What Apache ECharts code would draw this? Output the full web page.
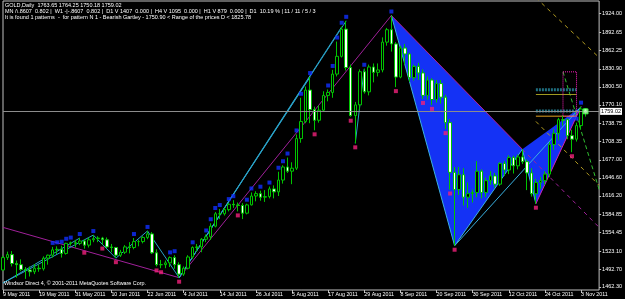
<!DOCTYPE html>
<html>
<head>
<meta charset="utf-8">
<script src="https://cdn.jsdelivr.net/npm/echarts@6/dist/echarts.min.js"></script>
<style>
  html, body { margin: 0; padding: 0; background: #000; }
  #chart { width: 625px; height: 299px; }
</style>
</head>
<body>
<div id="chart"></div>
<script>
// daily bars, GOLD 9 May 2011 .. 4 Nov 2011
const dates = [
  '9 May 2011','10 May 2011','11 May 2011','12 May 2011','13 May 2011','16 May 2011','17 May 2011','18 May 2011','19 May 2011','20 May 2011',
  '23 May 2011','24 May 2011','25 May 2011','26 May 2011','27 May 2011','30 May 2011','31 May 2011',
  '1 Jun 2011','2 Jun 2011','3 Jun 2011','6 Jun 2011','7 Jun 2011','8 Jun 2011','9 Jun 2011','10 Jun 2011','13 Jun 2011','14 Jun 2011',
  '15 Jun 2011','16 Jun 2011','17 Jun 2011','20 Jun 2011','21 Jun 2011','22 Jun 2011','23 Jun 2011','24 Jun 2011','27 Jun 2011','28 Jun 2011',
  '29 Jun 2011','30 Jun 2011',
  '1 Jul 2011','4 Jul 2011','5 Jul 2011','6 Jul 2011','7 Jul 2011','8 Jul 2011','11 Jul 2011','12 Jul 2011','13 Jul 2011','14 Jul 2011',
  '15 Jul 2011','18 Jul 2011','19 Jul 2011','20 Jul 2011','21 Jul 2011','22 Jul 2011','25 Jul 2011','26 Jul 2011','27 Jul 2011','28 Jul 2011',
  '29 Jul 2011',
  '1 Aug 2011','2 Aug 2011','3 Aug 2011','4 Aug 2011','5 Aug 2011','8 Aug 2011','9 Aug 2011','10 Aug 2011','11 Aug 2011','12 Aug 2011',
  '15 Aug 2011','16 Aug 2011','17 Aug 2011','18 Aug 2011','19 Aug 2011','22 Aug 2011','23 Aug 2011','24 Aug 2011','25 Aug 2011','26 Aug 2011',
  '29 Aug 2011','30 Aug 2011','31 Aug 2011',
  '1 Sep 2011','2 Sep 2011','5 Sep 2011','6 Sep 2011','7 Sep 2011','8 Sep 2011','9 Sep 2011','12 Sep 2011','13 Sep 2011','14 Sep 2011',
  '15 Sep 2011','16 Sep 2011','19 Sep 2011','20 Sep 2011','21 Sep 2011','22 Sep 2011','23 Sep 2011','26 Sep 2011','27 Sep 2011','28 Sep 2011',
  '29 Sep 2011','30 Sep 2011',
  '3 Oct 2011','4 Oct 2011','5 Oct 2011','6 Oct 2011','7 Oct 2011','10 Oct 2011','11 Oct 2011','12 Oct 2011','13 Oct 2011','14 Oct 2011',
  '17 Oct 2011','18 Oct 2011','19 Oct 2011','20 Oct 2011','21 Oct 2011','24 Oct 2011','25 Oct 2011','26 Oct 2011','27 Oct 2011','28 Oct 2011',
  '31 Oct 2011',
  '1 Nov 2011','2 Nov 2011','3 Nov 2011','4 Nov 2011'
];

const openPrices = [
  1491,1512,1517,1502,1500,1492,1491,1488,1494,1493, 1511,1516,1525,1526,1519,1536,1537,
  1536,1540,1533,1542,1544,1545,1542,1530,1529,1516, 1521,1530,1529,1539,1539,1546,1552,1520,1500,1500, 1503,1512,
  1500,1484,1494,1513,1529,1530,1543,1547,1565,1586, 1586,1593,1602,1601,1600,1587,1601,1616,1620,1614, 1615,
  1628,1623,1643,1665,1658,1663,1713,1742,1795,1762, 1744,1761,1786,1791,1822,1852,1898,1833,1752,1770, 1826,1792,1834,
  1825,1829,1876,1897,1873,1817,1866,1856,1816,1835, 1824,1786,1812,1779,1806,1783,1740,1656,1627,1652, 1614,1620,
  1622,1658,1622,1642,1650,1636,1671,1660,1681,1667, 1682,1674,1655,1620,1639,1642,1653,1703,1722,1745, 1745,
  1718,1712,1735,1763.65
];
const highPrices = [
  1515,1522,1523,1507,1509,1496,1497,1501,1500,1514, 1517,1530,1531,1532,1537,1539,1542,
  1545,1543,1546,1550,1548,1547,1546,1535,1530,1525, 1533,1538,1545,1542,1548,1557,1555,1526,1508,1507, 1514,1516,
  1504,1497,1516,1531,1535,1545,1551,1570,1589,1594, 1596,1604,1609,1605,1604,1603,1622,1624,1625,1626, 1632,
  1634,1657,1668,1681,1673,1720,1782,1801,1817,1767, 1769,1793,1796,1829,1877,1902,1912,1838,1775,1830, 1831,1838,1840,
  1840,1884,1900,1921,1876,1870,1873,1858,1838,1841, 1830,1818,1815,1812,1812,1787,1746,1665,1665,1663, 1639,1627,
  1675,1661,1647,1658,1655,1673,1675,1685,1684,1686, 1695,1678,1663,1645,1648,1658,1707,1729,1748,1752, 1747,
  1728,1740,1767,1764.25
];
const lowPrices = [
  1490,1508,1497,1478,1489,1476,1480,1484,1488,1490, 1500,1512,1518,1512,1517,1532,1529,
  1533,1527,1529,1538,1538,1534,1528,1521,1511,1513, 1518,1519,1526,1531,1536,1543,1518,1497,1494,1494, 1496,1493,
  1478,1481,1492,1510,1522,1521,1538,1542,1563,1577, 1583,1590,1596,1590,1577,1585,1600,1607,1608,1606, 1612,
  1612,1616,1637,1655,1636,1660,1706,1739,1739,1727, 1740,1758,1776,1782,1818,1850,1828,1750,1705,1761, 1789,1786,1808,
  1818,1825,1870,1860,1800,1815,1838,1809,1811,1812, 1780,1779,1770,1774,1772,1729,1627,1532,1618,1600, 1596,1605,
  1614,1612,1614,1635,1630,1633,1650,1653,1654,1661, 1670,1626,1615,1603,1628,1635,1648,1694,1710,1735, 1712,
  1690,1708,1728,1750.18
];
const closePrices = [
  1512,1517,1502,1500,1492,1491,1488,1494,1493,1511, 1516,1525,1526,1519,1536,1537,1536,
  1540,1533,1542,1544,1545,1542,1530,1529,1516,1521, 1530,1529,1539,1539,1546,1552,1520,1500,1500,1503, 1512,1500,
  1484,1494,1513,1529,1530,1543,1547,1565,1586,1586, 1593,1602,1601,1600,1587,1601,1616,1620,1614,1615, 1628,
  1623,1643,1665,1658,1663,1713,1742,1795,1762,1744, 1761,1786,1791,1822,1852,1898,1833,1752,1770,1826, 1792,1834,1825,
  1829,1876,1897,1873,1817,1866,1856,1816,1835,1824, 1786,1812,1779,1806,1783,1740,1656,1627,1652,1614, 1620,1622,
  1658,1622,1642,1650,1636,1671,1660,1681,1667,1682, 1674,1655,1620,1639,1642,1653,1703,1722,1745,1744, 1718,
  1712,1735,1763,1759.02
];

// empty slots to the right of the last bar (chart shift)
const shiftSlots = [' ', '  ', '   '];

const priceTicks = [1462.30, 1492.70, 1523.10, 1554.45, 1584.85, 1616.20, 1646.60, 1677.00,
  1708.35, 1738.75, 1770.10, 1800.50, 1830.90, 1862.25, 1892.65, 1924.00];
const lastPrice = 1759.02;

// bars marked by the fractal-style arrows
const highMarkIdx = [11,12,13,14,15,17,20,29,32,37,38,42,45,46,47,48,50,51,54,55,57,59,61,62,63,65,66,68,72,73,74,75,76,80,86,127,128];
const lowMarkIdx = [18,22,25,34,35,39,52,69,77,78,87,93,95,98,99,100,118,126];

// zigzag legs, [bar index, price]
const zigzagMain = [[0,1469],[20,1550],[25,1511],[32,1557],[39,1478],[76,1912]];
const zigzagEarly = [[0,1469],[17,1545]];
const zigzagAug1 = [[39,1478],[68,1817]];
const zigzagAug2 = [[39,1478],[75,1902]];
const zigzagAug3 = [[78,1705],[80,1831]];
const purpleLeft = [[0,1563],[39,1478]];
const purpleUp = [[39,1478],[86,1921]];

// bearish Gartley X A B C D
const gX = [86,1921], gA = [100,1532], gB = [115,1695], gC = [118,1603], gD = [128,1767];
const xbExtension = [gB, [132,1563]];
const oliveUpper = [[118,1951],[132,1850]];
const oliveLower = [[118,1742],[132,1634]];
const greenProjection = [[124,1826],[132,1627]];
const rangeD = [1750.90, 1825.78];
const levelTeal = [1795.6, 1759.5];
const levelOlive = 1787.5;
const levelOrange = 1750.9;

const headerLines = [
  'GOLD,Daily  1763.65 1764.25 1750.18 1759.02',
  'MN /\\.8607  0.802 |  W1 -|-.8607  0.802 |  D1 V 1407  0.000 |  H4 V 1095  0.000 |  H1 V 879  0.000 |  D1  10.19 % | 11 / 11 / 5 / 3',
  'It is found 1 patterns  -  for pattern N 1 - Bearish Gartley - 1750.90 < Range of the prices D < 1825.78'
];
const footer = 'Windsor Direct 4, \u00a9 2001-2011 MetaQuotes Software Corp.';

const FONT = '"Liberation Sans", Arial, sans-serif';
const chart = echarts.init(document.getElementById('chart'), null, { renderer: 'canvas' });

const candles = dates.map((d, i) => [openPrices[i], closePrices[i], lowPrices[i], highPrices[i]]);

function seg(points, color, width, type, z) {
  return {
    type: 'line', data: points, symbol: 'none', silent: true, z: z || 2,
    lineStyle: { color: color, width: width, type: type || 'solid' }
  };
}
function level(value, color, width, type) {
  return seg([[118, value], [127, value]], color, width, type, 3);
}

const option = {
  backgroundColor: '#000',
  animation: false,
  grid: { left: 2, right: 22, top: 1, bottom: 9, show: true, borderColor: '#c0c0c0', borderWidth: 1 },
  xAxis: {
    type: 'category',
    data: dates.concat(shiftSlots),
    boundaryGap: false,
    axisLine: { show: false },
    axisTick: { show: true, interval: 7, length: 3, lineStyle: { color: '#c0c0c0' } },
    axisLabel: {
      interval: 7, align: 'left', margin: 2, color: '#fff', fontSize: 5.3, fontFamily: FONT,
      hideOverlap: false
    },
    splitLine: { show: false }
  },
  yAxis: {
    type: 'value',
    position: 'right',
    min: 1457.2,
    max: 1945.5,
    scale: true,
    axisLine: { show: false },
    axisTick: { show: true, length: 2, customValues: priceTicks, lineStyle: { color: '#c0c0c0' } },
    axisLabel: {
      customValues: priceTicks, margin: 3, color: '#fff', fontSize: 5.5, fontFamily: FONT,
      hideOverlap: false, formatter: v => v.toFixed(2)
    },
    splitLine: { show: false }
  },
  graphic: [
    { type: 'text', left: 5, top: 2, z: 100,
      style: { text: headerLines.join('\n'), fill: '#fff', fontSize: 5.5, fontFamily: FONT, lineHeight: 6.2 } },
    { type: 'text', left: 4, top: 281, z: 100,
      style: { text: footer, fill: '#fff', fontSize: 5.4, fontFamily: FONT } }
  ],
  series: [
    {
      type: 'custom',
      z: 1,
      silent: true,
      data: [[gX[0], gX[1], gA[0], gA[1], gB[0], gB[1]], [gB[0], gB[1], gC[0], gC[1], gD[0], gD[1]]],
      encode: { x: [0, 2, 4], y: [1, 3, 5] },
      renderItem: (params, api) => {
        const pts = [0, 2, 4].map(k => api.coord([api.value(k), api.value(k + 1)]));
        return { type: 'polygon', shape: { points: pts }, style: { fill: '#1432f5' } };
      }
    },
    seg(purpleLeft, '#a0209a', 1),
    seg(purpleUp, '#a0209a', 1),
    seg(xbExtension, '#a0209a', 1, [4, 4], 1),
    seg([gX, gB], '#b0209a', 1),
    seg(zigzagMain, '#2aa2c8', 1),
    seg(zigzagEarly, '#2aa2c8', 1),
    seg(zigzagAug1, '#2aa2c8', 1),
    seg(zigzagAug2, '#2aa2c8', 1),
    seg(zigzagAug3, '#2aa2c8', 1),
    seg([gX, gA, gB, gC], '#3ab0e0', 1),
    seg([gA, gD], '#3ab0e0', 1),
    seg([gC, gD], '#d020b0', 1),
    seg(oliveUpper, '#b09a20', 1, [4, 4]),
    seg(oliveLower, '#b09a20', 1, [4, 4]),
    seg(greenProjection, '#30c030', 1, [4, 3]),
    level(levelTeal[0], '#1f6f80', 3, [2, 1]),
    level(levelTeal[1], '#1f6f80', 3, [2, 1]),
    level(levelOlive, '#a09a20', 1),
    level(levelOrange, '#e0a020', 1),
    seg([[124, rangeD[1]], [127, rangeD[1]], [127, rangeD[0]], [124, rangeD[0]], [124, rangeD[1]]], '#ff20c0', 1, [1, 1], 4),
    {
      type: 'candlestick',
      data: candles,
      barWidth: 3,
      z: 3,
      silent: true,
      itemStyle: { color: '#000', color0: '#fff', borderColor: '#00c400', borderColor0: '#00c400', borderWidth: 1 },
      markLine: {
        silent: true,
        symbol: 'none',
        data: [{ yAxis: lastPrice }],
        lineStyle: { color: '#8c8c8c', type: 'solid', width: 1 },
        label: {
          show: true, position: 'end', distance: 1, formatter: lastPrice.toFixed(2),
          color: '#000', backgroundColor: '#fff', padding: [1, 1, 0, 1], fontSize: 5.5, fontFamily: FONT
        }
      }
    },
    {
      type: 'scatter', z: 5, silent: true,
      data: highMarkIdx.map(i => [i, highPrices[i]]),
      symbol: 'rect', symbolSize: 4, symbolOffset: [0, -4],
      itemStyle: { color: '#1030ff' }
    },
    {
      type: 'scatter', z: 5, silent: true,
      data: lowMarkIdx.map(i => [i, lowPrices[i]]),
      symbol: 'rect', symbolSize: 4, symbolOffset: [0, 4],
      itemStyle: { color: '#f0207a' }
    },
    {
      type: 'scatter', z: 6, silent: true,
      data: [[dates.length - 1, closePrices[closePrices.length - 1]]],
      symbol: 'rect', symbolSize: 5,
      itemStyle: { color: '#c0ffc0', borderColor: '#40ff40', borderWidth: 1 }
    }
  ]
};

chart.setOption(option);
</script>
</body>
</html>
